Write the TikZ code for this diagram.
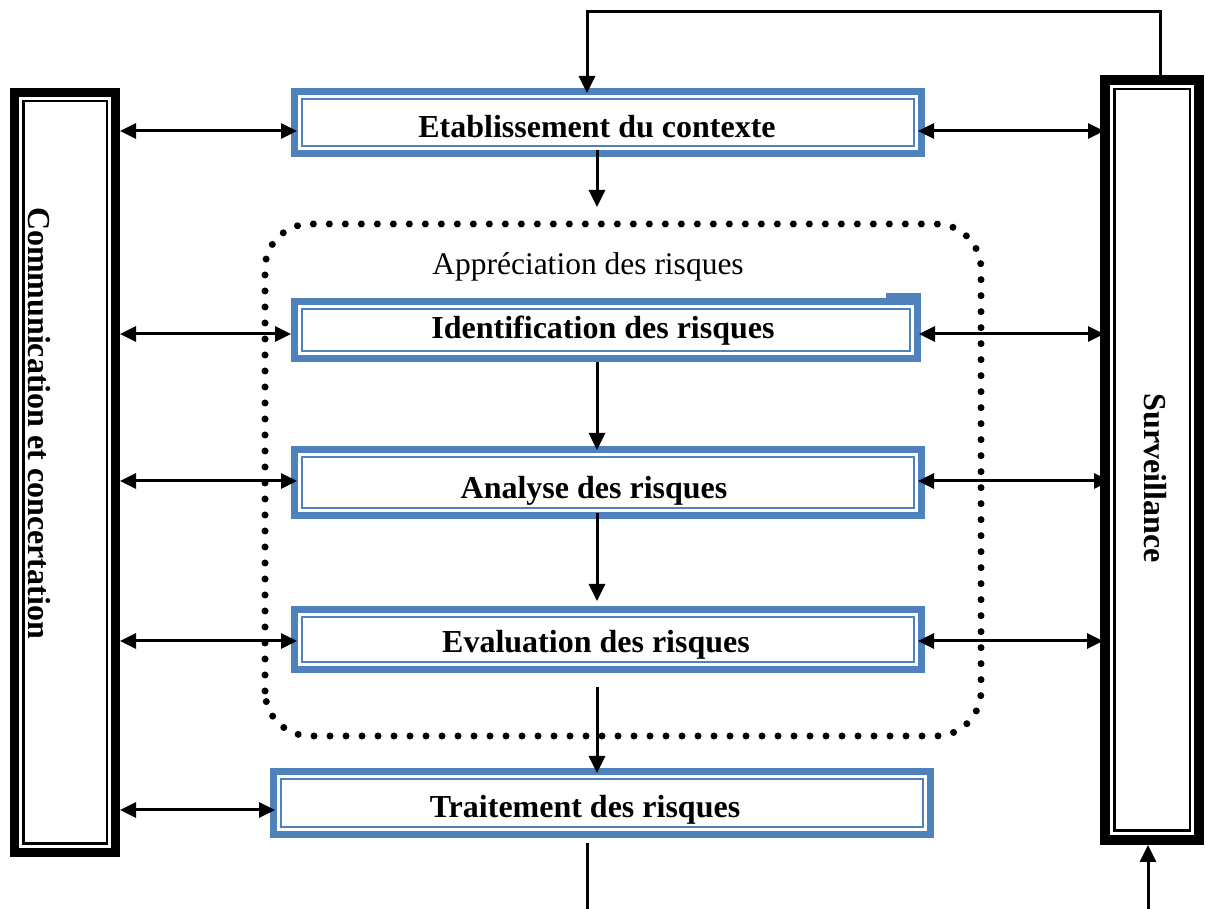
\documentclass[tikz,border=0pt]{standalone}
\usepackage{fontspec}
\setmainfont{Liberation Serif}
\usetikzlibrary{arrows.meta}
\definecolor{stepblue}{HTML}{4F81BD}
% thick outer band, white gap, thin inner line, all drawn inside the node
\newcommand\triframe[5]{%
  \draw[#2,line width=#3] ([shift={(#3/2,-#3/2)}]#1.north west) rectangle ([shift={(-#3/2,#3/2)}]#1.south east);
  \draw[#2,line width=#5] ([shift={(#3+#4+#5/2,-#3-#4-#5/2)}]#1.north west) rectangle ([shift={(-#3-#4-#5/2,#3+#4+#5/2)}]#1.south east);
}
\begin{document}
\begin{tikzpicture}[x=1pt,y=1pt,
  boxshape/.style={draw=none,inner sep=0pt,outer sep=0pt},
  lab/.style={font=\fontsize{32}{34}\selectfont\bfseries,inner sep=0pt},
  conn/.style={line width=3pt},
  dbl/.style={conn,{Triangle[length=16pt,width=15pt]}-{Triangle[length=16pt,width=15pt]}},
  one/.style={conn,-{Triangle[length=17pt,width=16pt]}}]
\useasboundingbox (0,0) rectangle (1206,909);

% side bars
\node[boxshape,minimum width=110pt,minimum height=769pt] (leftbar) at (65,436.5) {};
\node[boxshape,minimum width=104pt,minimum height=770pt] (rightbar) at (1152,449) {};
\triframe{leftbar}{black}{9pt}{3pt}{2.5pt}
\triframe{rightbar}{black}{10pt}{3pt}{2.5pt}
\node[lab,rotate=-90] (comtxt) at (39,486) {Communication et concertation};
\node[lab,rotate=-90] (survtxt) at (1155,431) {Surveillance};

% dotted group
\draw[line width=7pt,line cap=round,dash pattern=on 0pt off 16pt,rounded corners=45pt]
  (265,173) rectangle (981,685);
\node[font=\fontsize{31.5}{34}\selectfont,inner sep=0pt] (apptxt) at (588,642) {Appréciation des risques};

% process steps
\node[boxshape,minimum width=634pt,minimum height=69pt] (etab) at (608,786.5) {};
\node[boxshape,minimum width=630pt,minimum height=64pt] (ident) at (606,579) {};
\node[boxshape,minimum width=634pt,minimum height=73pt] (analyse) at (608,426.5) {};
\node[boxshape,minimum width=634pt,minimum height=67pt] (eval) at (608,269.5) {};
\node[boxshape,minimum width=664pt,minimum height=70pt] (trait) at (602,106) {};
\fill[stepblue] (886,609) rectangle (921,616);
\foreach \n in {etab,ident,analyse,eval,trait}{\triframe{\n}{stepblue}{7pt}{3pt}{2pt}}

\node[lab] (etabtxt) at (597,782) {Etablissement du contexte};
\node[lab] (identtxt) at (603,578) {Identification des risques};
\node[lab] (analysetxt) at (594,418) {Analyse des risques};
\node[lab] (evaltxt) at (596,264) {Evaluation des risques};
\node[lab] (traittxt) at (585,99) {Traitement des risques};

% exchanges with the side bars
\draw[dbl] (leftbar.east |- 0,778) -- ([xshift=6pt]etab.west |- 0,778);
\draw[dbl] ([xshift=-7pt]etab.east |- 0,778) -- ([xshift=4pt]rightbar.west |- 0,778);
\draw[dbl] (leftbar.east |- 0,575) -- (ident.west |- 0,575);
\draw[dbl] ([xshift=-2pt]ident.east |- 0,575) -- ([xshift=4pt]rightbar.west |- 0,575);
\draw[dbl] (leftbar.east |- 0,428) -- ([xshift=6pt]analyse.west |- 0,428);
\draw[dbl] ([xshift=-7pt]analyse.east |- 0,428) -- ([xshift=10pt]rightbar.west |- 0,428);
\draw[dbl] (leftbar.east |- 0,268) -- ([xshift=6pt]eval.west |- 0,268);
\draw[dbl] ([xshift=-7pt]eval.east |- 0,268) -- ([xshift=3pt]rightbar.west |- 0,268);
\draw[dbl] (leftbar.east |- 0,99) -- ([xshift=5pt]trait.west |- 0,99);

% main flow
\coordinate (etabend) at (597,702);
\draw[one] ([yshift=7pt]etab.south -| etabend) -- (etabend);
\draw[one] (ident.south -| 597,0) -- ([yshift=-4pt]analyse.north -| 597,0);
\draw[one] ([yshift=6pt]analyse.south -| 597,0) -- ([yshift=5pt]eval.north -| 597,0);
\draw[one] ([yshift=-14pt]eval.south -| 597,0) -- ([yshift=-5pt]trait.north -| 597,0);
\coordinate (outbottom) at (587,0);
\draw[conn] ([yshift=-5pt]trait.south -| outbottom) -- (outbottom);
\coordinate (inbottom) at (1148,0);
\draw[one] (inbottom) -- (rightbar.south -| inbottom);
\coordinate (loopright) at (1160,897);
\coordinate (loopleft) at (587,897);
\draw[one,line join=miter] (rightbar.north -| loopright) -- (loopright) -- (loopleft) -- ([yshift=-5pt]etab.north -| loopleft);
\end{tikzpicture}
\end{document}
